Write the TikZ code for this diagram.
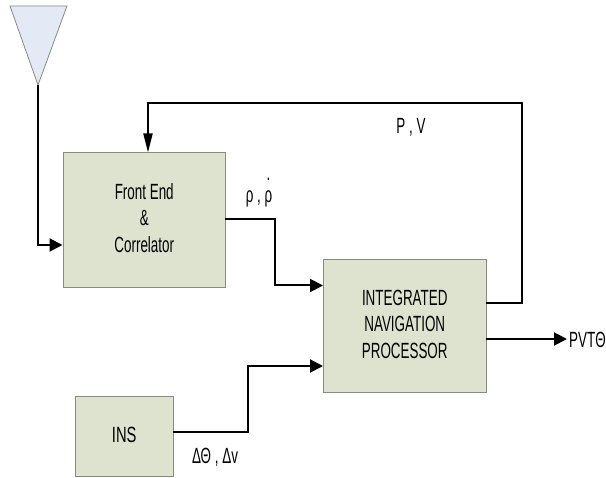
\documentclass[tikz,border=0pt]{standalone}
\usepackage{fontspec}
\setmainfont{Liberation Sans}
\usepackage{graphicx}
\usetikzlibrary{arrows.meta}
\definecolor{blockfill}{RGB}{221,227,207}
\definecolor{blockline}{RGB}{136,140,126}
\definecolor{antennafill}{RGB}{227,234,245}
\newcommand{\squeezed}[2][0.61]{\scalebox{#1}[1]{\begin{tabular}{@{}c@{}}#2\end{tabular}}}
\tikzset{
	blockbox/.style={draw=blockline, fill=blockfill, line width=1pt, inner sep=0pt, anchor=north west},
	link/.style={line width=2pt, black},
	linkarrow/.style={link, -{Triangle[length=13pt,width=13pt]}},
	linkarrowlong/.style={link, -{Triangle[length=19pt,width=9pt]}},
	signal/.style={inner sep=0pt}
}
\begin{document}
\begin{tikzpicture}[x=1pt, y=-1pt, font=\fontsize{22}{26.5}\selectfont]
			\useasboundingbox (0,0) rectangle (606,478);
			\draw [draw=blockline, fill=antennafill, line width=0.8pt] (10,6) -- (67,6) -- (38,85) -- cycle;
			\coordinate (antennatip) at (38,85);
			
			\node [blockbox, minimum width=162.5pt, minimum height=134.5pt] (frontend) at (62.5,152.5) {\squeezed{Front End\\\&\\Correlator}};
			\node [blockbox, minimum width=162.5pt, minimum height=133.5pt] (processor) at (323,259) {\squeezed{INTEGRATED\\NAVIGATION\\PROCESSOR}};
			\node [blockbox, minimum width=97.5pt, minimum height=79.5pt] (ins) at (75,396.5) {\squeezed[0.67]{INS}};
			
			\coordinate (frontin) at (62.5,245);
			\coordinate (frontout) at (225,219);
			\coordinate (fronttop) at (148,152.5);
			\coordinate (procinA) at (323,285.5);
			\coordinate (procinB) at (323,366);
			\coordinate (procoutA) at (485.5,303);
			\coordinate (procoutB) at (485.5,339);
			\coordinate (insout) at (172.5,432);
			\coordinate (pvtend) at (567,339);
			
			\draw [linkarrow] (antennatip) |- (frontin);
			\draw [linkarrow] (frontout) -- (274.5,219) |- (procinA);
			\draw [linkarrow] (insout) -- (248,432) |- (procinB);
			\draw [linkarrowlong] (procoutA) -- (522,303) |- (148,103) -- (fronttop);
			\draw [linkarrow] (procoutB) -- (pvtend);
			
			\node [signal] (posvel) at (411,128) {\squeezed{P , V}};
			\node [signal] (rho) at (259,197) {\squeezed{ρ , ρ}};
			\node [signal] (rhodot) at (268.5,175) {\squeezed{.}};
			\node [signal, anchor=west] (pvt) at (569,342) {\squeezed{PVTΘ}};
			\node [signal] (delta) at (215,458) {\squeezed{ΔΘ , Δv}};
		\end{tikzpicture}
\end{document}
